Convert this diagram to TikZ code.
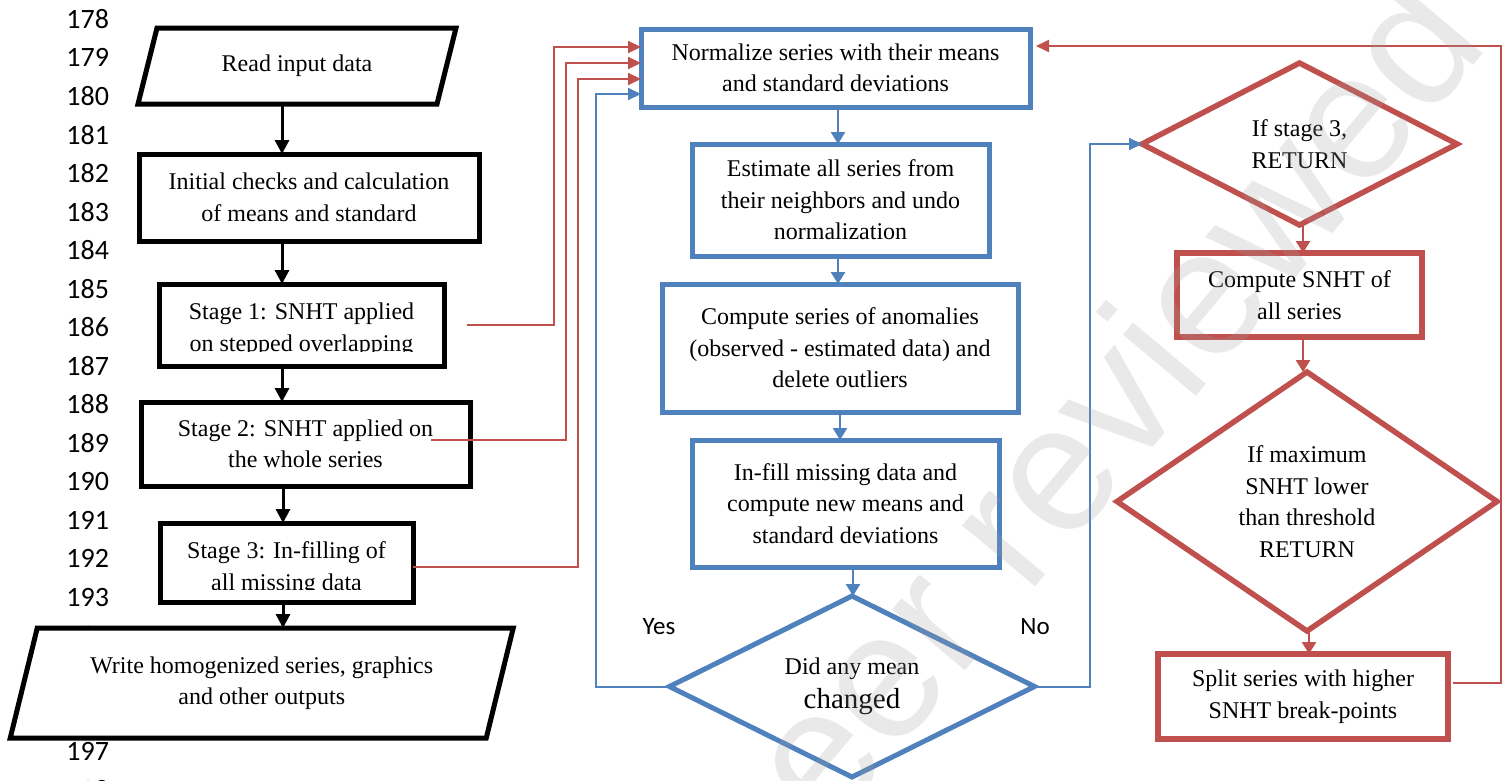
\documentclass[tikz,border=0pt]{standalone}
\usepackage{fontspec}
\setmainfont{Liberation Serif}
\newfontfamily\calibri{Carlito}
\newfontfamily\wmfont{Liberation Sans}
\usetikzlibrary{shapes.geometric,arrows.meta,calc}
\definecolor{oblue}{RGB}{79,129,189}
\definecolor{ored}{RGB}{192,80,77}
\begin{document}
\begin{tikzpicture}[x=1pt,y=-1pt,
  every node/.style={inner sep=0pt,outer sep=0pt},
  txt/.style={font=\fontsize{24}{31.5}\selectfont,align=center},
  kbox/.style={txt,draw=black,line width=5pt,fill=white},
  bbox/.style={txt,draw=oblue,line width=5pt,fill=white},
  rbox/.style={txt,draw=ored,line width=5.5pt,fill=white},
  bdia/.style={txt,diamond,draw=oblue,line width=5pt,fill=white},
  rdia/.style={txt,diamond,draw=ored,line width=5.5pt,fill=white},
  lnum/.style={font=\calibri\fontsize{28}{28}\selectfont,anchor=east},
  lbl/.style={font=\calibri\fontsize{25}{25}\selectfont},
  karrow/.style={draw=black,line width=3pt,-{Triangle[width=14pt,length=14pt]}},
  barrow/.style={draw=oblue,line width=2.5pt,-{Triangle[width=14pt,length=12pt]}},
  bline/.style={draw=oblue,line width=2pt,-{Triangle[width=12pt,length=13pt]}},
  rline/.style={draw=ored,line width=2pt,-{Triangle[width=12pt,length=13pt]}},
  rarrow/.style={draw=ored,line width=2.5pt,-{Triangle[width=14pt,length=12pt]}},
  wm/.style={font=\wmfont\fontsize{180}{180}\selectfont,text=gray!75,text opacity=0.22}
]
\useasboundingbox (0,0) rectangle (1507,780);
\fill[white] (0,0) rectangle (1507,780);

% line numbers
\foreach \i in {0,...,20}{
  \pgfmathtruncatemacro\n{178+\i}
  \node[lnum] (ln\i) at (109,19+38.55*\i) {\n};
}

% ---------- left column ----------
\node[txt,minimum width=299,minimum height=76] (read) at (297,66) {Read input data};
\draw[line width=5pt,line join=miter] ($(read.north west)+(9.5,0)$) -- ($(read.north east)+(9.5,0)$)
  -- ($(read.south east)+(-9.5,0)$) -- ($(read.south west)+(-9.5,0)$) -- cycle;

\node[kbox,minimum width=340,minimum height=87] (init) at (309,197.5)
  {Initial checks and calculation\\of means and standard};

\node[kbox,minimum width=285,minimum height=82] (s1) at (301.5,325) {};
\begin{scope}
  \clip (159,284) rectangle (444,351);
  \node[txt] (s1t) at (301.5,330) {Stage 1: SNHT applied\\on stepped overlapping};
\end{scope}

\node[kbox,minimum width=329,minimum height=84] (s2) at (305.5,444)
  {Stage 2: SNHT applied on\\the whole series};

\node[kbox,minimum width=253,minimum height=79] (s3) at (286.5,562.5) {};
\begin{scope}
  \clip (160,523) rectangle (413,589);
  \node[txt] (s3t) at (286.5,568.5) {Stage 3: In-filling of\\all missing data};
\end{scope}

\fill[white] (37,628) -- (513,628) -- (487,738) -- (10,738) -- cycle;
\node[txt,minimum width=476,minimum height=110] (write) at (261.75,683)
  {Write homogenized series, graphics\\and other outputs};
\draw[line width=5pt,line join=miter] ($(write.north west)+(13.5,0)$) -- ($(write.north east)+(13.5,0)$)
  -- ($(write.south east)+(-13.5,0)$) -- ($(write.south west)+(-13.5,0)$) -- cycle;

\coordinate (ax) at (282,0);
\coordinate (ax2) at (283,0);
\draw[karrow] (read.south -| ax) -- (init.north -| ax);
\draw[karrow] (init.south -| ax) -- (s1.north -| ax);
\draw[karrow] (s1.south -| ax) -- (s2.north -| ax);
\draw[karrow] (s2.south -| ax2) -- (s3.north -| ax2);
\draw[karrow] (s3.south -| ax2) -- (write.north -| ax2);

% ---------- middle column ----------
\node[bbox,minimum width=389,minimum height=78] (norm) at (835.5,68)
  {Normalize series with their means\\and standard deviations};
\node[bbox,minimum width=297,minimum height=112] (est) at (840.5,200)
  {Estimate all series from\\their neighbors and undo\\normalization};
\node[bbox,minimum width=356,minimum height=128] (anom) at (840,348)
  {Compute series of anomalies\\(observed - estimated data) and\\delete outliers};
\node[bbox,minimum width=307,minimum height=127] (fill) at (845.5,503.5)
  {In-fill missing data and\\compute new means and\\standard deviations};
\node[bdia,aspect=2,minimum width=365,minimum height=181] (dec) at (852,686.5)
  {Did any mean\\[2pt]{\fontsize{29}{33}\selectfont changed}};

\coordinate (bx1) at (838,0);
\coordinate (bx2) at (840,0);
\coordinate (bx3) at (853,0);
\draw[barrow] (norm.south -| bx1) -- (est.north -| bx1);
\draw[barrow] (est.south -| bx1) -- (anom.north -| bx1);
\draw[barrow] (anom.south -| bx2) -- (fill.north -| bx2);
\draw[barrow] (fill.south -| bx3) -- (dec.north -| bx3);

\node[lbl] (yes) at (659,627) {Yes};
\node[lbl] (no) at (1035,627) {No};

% ---------- right column ----------
\node[rdia,aspect=2,minimum width=315,minimum height=162] (s3d) at (1299.5,144)
  {If stage 3,\\RETURN};
\node[rbox,minimum width=245,minimum height=84] (snht) at (1299.5,295)
  {Compute SNHT of\\all series};
\node[rdia,aspect=1.5,minimum width=380,minimum height=259] (thr) at (1307,501.5)
  {If maximum\\SNHT lower\\than threshold\\RETURN};
\node[rbox,minimum width=290,minimum height=85] (split) at (1303,696.5)
  {Split series with higher\\SNHT break-points};

\coordinate (rx1) at (1303,0);
\coordinate (rx2) at (1309,0);
\draw[rarrow] (s3d.south -| rx1) -- (snht.north -| rx1);
\draw[rarrow] (snht.south -| rx1) -- (thr.north -| rx1);
\draw[rarrow] (thr.south -| rx2) -- (split.north -| rx2);

% ---------- loop connectors ----------
\coordinate (c1) at (554,47);
\coordinate (c2) at (566,63);
\coordinate (c3) at (578,79);
\coordinate (c4) at (596,94);
\coordinate (c5) at (1090,144);
\coordinate (c6) at (1501,46);
\draw[rline] ($(s1.east)+(23,0)$) -| (c1) -- (norm.west |- c1);
\draw[rline] ($(s2.east)+(-39,-4)$) -| (c2) -- (norm.west |- c2);
\draw[rline] ($(s3.east)+(0,4.5)$) -| (c3) -- (norm.west |- c3);
\draw[bline] (dec.west) -| (c4) -- (norm.west |- c4);
\draw[bline] (dec.east) -| (c5) -- (s3d.west);
\draw[rline] ($(split.east)+(5,-13.5)$) -| (c6) -- ($(norm.east |- c6)+(6,0)$);

% watermark
\begin{scope}
  \clip (0,0) rectangle (1507,780);
  \node[wm,rotate=50] (wmark) at (1092,448) {peer reviewed};
\end{scope}
\end{tikzpicture}
\end{document}
